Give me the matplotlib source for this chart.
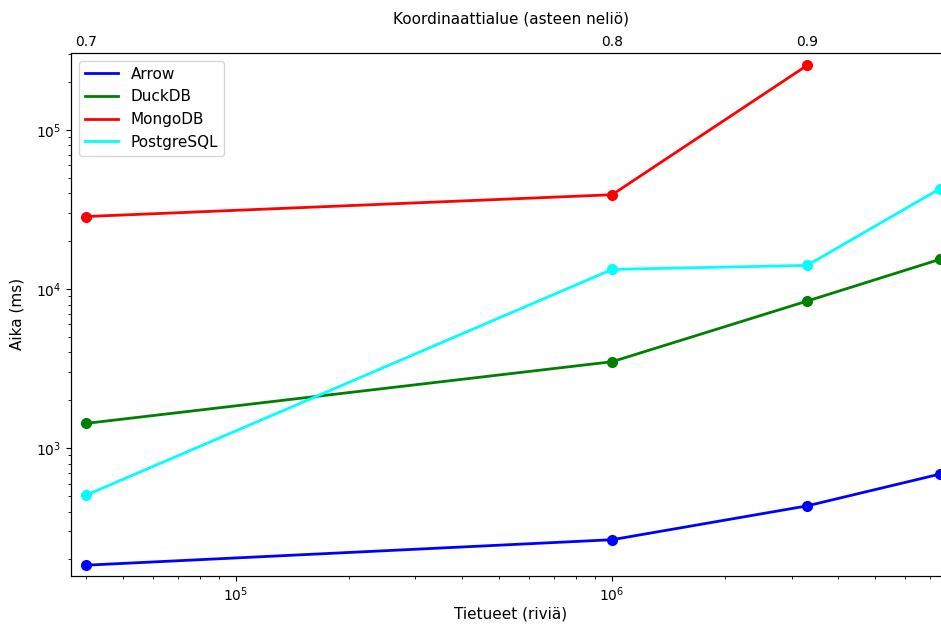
import matplotlib
matplotlib.use("Agg")
import matplotlib.pyplot as plt
from matplotlib.ticker import NullLocator

rows = [40000, 1000000, 3300000, 7450000]
area_labels = ["0.7", "0.8", "0.9"]
arrow = [184, 266, 434, 688]
duckdb = [1433, 3497, 8410, 15400]
mongodb = [28600, 39200, 254800]
postgres = [508, 13300, 14100, 42800]

fig = plt.figure(figsize=(9.41, 6.24), dpi=100)
ax = fig.add_axes([0.0755, 0.0774, 0.9352, 0.8377])

ax.plot(rows, arrow, "o-", color="blue", lw=2, ms=7, label="Arrow")
ax.plot(rows, duckdb, "o-", color="green", lw=2, ms=7, label="DuckDB")
ax.plot(rows[:len(mongodb)], mongodb, "o-", color="red", lw=2, ms=7, label="MongoDB")
ax.plot(rows, postgres, "o-", color="cyan", lw=2, ms=7, label="PostgreSQL")

ax.set_xscale("log")
ax.set_yscale("log")
ax.set_xlim(36400, 7.97e6)
ax.set_ylim(158, 305000)
ax.set_xlabel("Tietueet (riviä)", fontsize=11, labelpad=1.5)
ax.set_ylabel("Aika (ms)", fontsize=11, labelpad=8)

leg = ax.legend(loc="upper left", fontsize=11, handlelength=2.2)
for h in leg.legend_handles:
    h.set_marker("")

# yläakseli: koordinaattialue
ax2 = ax.twiny()
ax2.set_xscale("log")
ax2.set_xlim(ax.get_xlim())
ax2.set_xticks(rows[:len(area_labels)])
ax2.set_xticklabels(area_labels)
ax2.xaxis.set_minor_locator(NullLocator())
ax2.tick_params(axis="x", length=0, pad=3)
ax2.set_xlabel("Koordinaattialue (asteen neliö)", fontsize=11, labelpad=8)

fig.savefig("out.png", dpi=100)
